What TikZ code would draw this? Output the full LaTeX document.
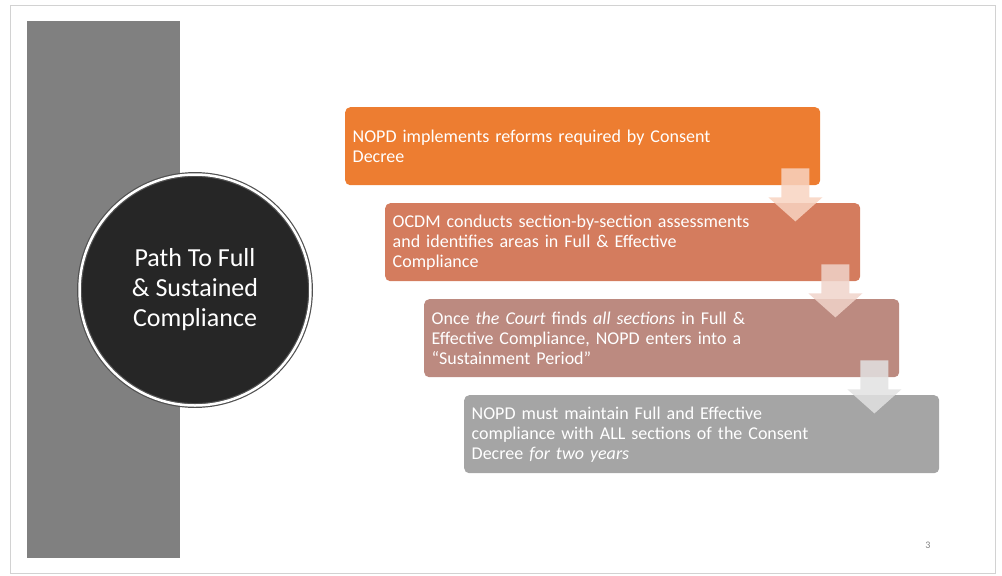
\documentclass[tikz,border=0pt]{standalone}
\usepackage{fontspec}
\setmainfont{Carlito}
\usepackage{xcolor}
\usetikzlibrary{positioning}

\definecolor{slidegray}{HTML}{808080}
\definecolor{discdark}{HTML}{262626}
\definecolor{stepA}{HTML}{ED7D31}
\definecolor{stepB}{HTML}{D47C5E}
\definecolor{stepC}{HTML}{BC8A80}
\definecolor{stepD}{HTML}{A5A5A5}
\definecolor{arrA}{HTML}{F8D3C1}
\definecolor{arrB}{HTML}{F0D3CA}
\definecolor{arrC}{HTML}{E2E2E2}

\begin{document}
\begin{tikzpicture}[x=1pt,y=-1pt,
  stagebox/.style={rectangle, rounded corners=5pt, minimum width=475pt, minimum height=78pt,
    text width=460pt, inner xsep=7.5pt, align=left, text=white, anchor=north west,
    font=\fontsize{18}{20}\selectfont},
  downarr/.pic={\fill[#1, fill opacity=0.85] (-14,0) -- (14,0) -- (14,29) -- (27,29)
    -- (0,53) -- (-27,29) -- (-14,29) -- cycle;}]
\useasboundingbox (0,0) rectangle (1002,576);
% slide frame
\draw[gray!35, line width=1pt] (10,5) rectangle (995,573);
\fill[slidegray] (27,21) rectangle (180,558);
% title disc
\node[circle, minimum size=231pt, fill=discdark, draw=discdark!80, double=white,
  double distance=2.5pt, line width=1.2pt, text=white, align=center,
  font=\fontsize{26}{30}\selectfont] (title) at (195,290)
  {Path To Full\\ \& Sustained\\ Compliance};
% steps
\node[stagebox, fill=stepA] (b1) at (345,107)
  {NOPD implements reforms required by Consent\\Decree};
\node[stagebox, fill=stepB] (b2) at (385,203)
  {OCDM conducts section-by-section assessments\\and identifies areas in Full \& Effective\\Compliance};
\node[stagebox, fill=stepC] (b3) at (424,299)
  {Once \textit{the Court} finds \textit{all sections} in Full \&\\Effective Compliance, NOPD enters into a\\``Sustainment Period''};
\node[stagebox, fill=stepD] (b4) at (464,395)
  {NOPD must maintain Full and Effective\\compliance with ALL sections of the Consent\\Decree \textit{for two years}};
% block arrows
\pic at ([xshift=-25pt,yshift=17pt]b1.south east) {downarr=arrA};
\pic at ([xshift=-25pt,yshift=17pt]b2.south east) {downarr=arrB};
\pic at ([xshift=-25pt,yshift=17pt]b3.south east) {downarr=arrC};
% page number
\node[text=gray, font=\fontsize{10}{12}\selectfont] (pnum) at (928,545) {3};
\end{tikzpicture}
\end{document}
